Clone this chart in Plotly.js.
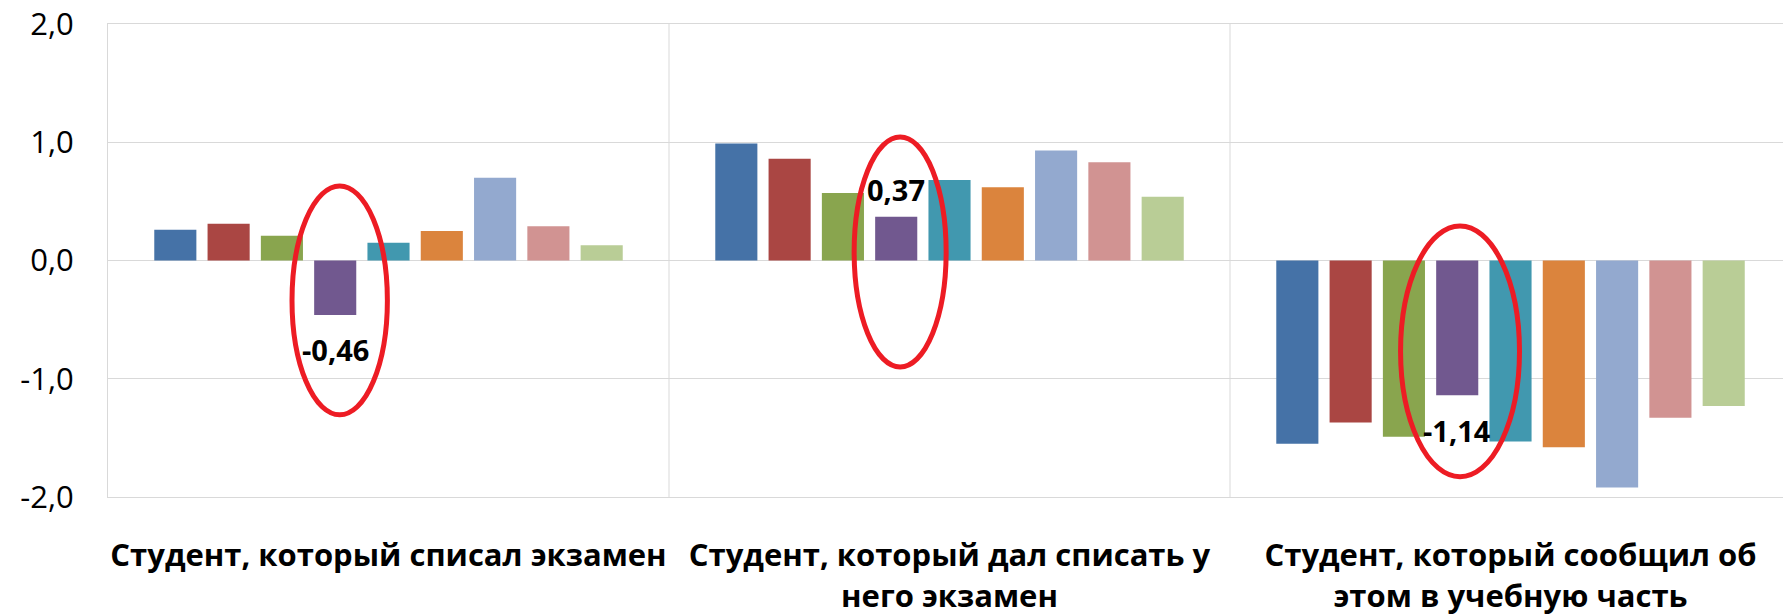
<!DOCTYPE html>
<html>
<head>
<meta charset="utf-8">
<script src="https://cdn.plot.ly/plotly-3.0.1.min.js"></script>
<style>
  html, body { margin: 0; padding: 0; background: #ffffff; overflow: hidden; }
  #chart { width: 1783px; height: 614px; }
</style>
</head>
<body>
<div id="chart"></div>
<script>
// ---- data ----
const categories = [
  'Студент, который списал экзамен',
  'Студент, который дал списать у<br>него экзамен',
  'Студент, который сообщил об<br>этом в учебную часть'
];
const seriesNames = ['Серия 1','Серия 2','Серия 3','Серия 4','Серия 5','Серия 6','Серия 7','Серия 8','Серия 9'];
const series1 = [0.26, 0.99, -1.55];
const series2 = [0.31, 0.86, -1.37];
const series3 = [0.21, 0.57, -1.49];
const series4 = [-0.46, 0.37, -1.14];
const series5 = [0.15, 0.68, -1.53];
const series6 = [0.25, 0.62, -1.58];
const series7 = [0.70, 0.93, -1.92];
const series8 = [0.29, 0.83, -1.33];
const series9 = [0.13, 0.54, -1.23];
const highlightedSeries = 3; // index of the labelled (purple) series
const yTickVals = [-2, -1, 0, 1, 2];
const yTickText = ['-2,0', '-1,0', '0,0', '1,0', '2,0'];

// ---- styles ----
const colors = ['#4572A7','#AA4643','#89A54E','#71588F','#4198AF','#DB843D','#93A9CF','#D19392','#B9CD96'];
const allSeries = [series1, series2, series3, series4, series5, series6, series7, series8, series9];
const catIdx = categories.map((c, i) => i);
const bargap = 0.145;
const nSeries = allSeries.length;

const traces = allSeries.map((vals, i) => ({
  type: 'bar',
  name: seriesNames[i],
  x: catIdx,
  y: vals,
  marker: { color: colors[i] },
  hoverinfo: 'y+name'
}));

// data labels of the highlighted series, placed at that series' bar position
const slot = (1 - bargap) / nSeries;
const hlOffset = (highlightedSeries - (nSeries - 1) / 2) * slot;
const labelFont = { family: 'Open Sans, sans-serif', size: 29, color: '#000000', weight: 'bold' };
const annotations = allSeries[highlightedSeries].map((v, i) => ({
  xref: 'x', yref: 'y',
  x: catIdx[i] + hlOffset,
  y: v,
  text: v.toFixed(2).replace('.', ','),
  showarrow: false,
  xanchor: 'center',
  yanchor: 'middle',
  yshift: v < 0 ? -35 : 27,
  font: labelFont
}));

// red ellipses around the labelled series (x offset relative to category, y extents)
const ellipseSpecs = [
  { dx: -0.087, hw: 0.085, y0: -1.305, y1: 0.63 },
  { dx: -0.088, hw: 0.082, y0: -0.90, y1: 1.044 },
  { dx: -0.090, hw: 0.106, y0: -1.828, y1: 0.292 }
];
const ellipses = ellipseSpecs.map((e, i) => ({
  type: 'circle',
  xref: 'x', yref: 'y',
  x0: catIdx[i] + e.dx - e.hw, x1: catIdx[i] + e.dx + e.hw,
  y0: e.y0, y1: e.y1,
  line: { color: '#ED1C24', width: 5 },
  fillcolor: 'rgba(0,0,0,0)',
  layer: 'above'
}));

const gridColor = '#D9D9D9';
const dividers = catIdx.slice(0, -1).map(i => ({
  type: 'line', xref: 'x', yref: 'paper',
  x0: i + 0.5, x1: i + 0.5, y0: 0, y1: 1,
  line: { color: gridColor, width: 1 },
  layer: 'below'
}));

const layout = {
  width: 1783,
  height: 614,
  margin: { l: 108, r: 0, t: 24, b: 117 },
  paper_bgcolor: '#ffffff',
  plot_bgcolor: '#ffffff',
  showlegend: false,
  separators: ', ',
  barmode: 'group',
  bargap: bargap,
  bargroupgap: 0.21,
  font: { family: 'Open Sans, sans-serif', color: '#000000' },
  xaxis: {
    type: 'linear',
    range: [-0.5, 2.4857],
    tickvals: catIdx,
    ticktext: categories,
    tickangle: 0,
    tickfont: { family: 'Open Sans, sans-serif', size: 31, color: '#000000', weight: 'bold' },
    showgrid: false,
    zeroline: false,
    showline: true,
    mirror: true,
    linecolor: gridColor,
    linewidth: 1,
    ticks: '',
    ticklabelstandoff: 31
  },
  yaxis: {
    range: [-2, 2],
    tickvals: yTickVals,
    ticktext: yTickText,
    tickfont: { family: 'Open Sans, sans-serif', size: 31, color: '#000000' },
    showgrid: true,
    gridcolor: gridColor,
    gridwidth: 1,
    zeroline: true,
    zerolinecolor: gridColor,
    zerolinewidth: 1.5,
    showline: true,
    linecolor: gridColor,
    linewidth: 1,
    ticks: '',
    ticklabelstandoff: 27
  },
  annotations: annotations,
  shapes: ellipses.concat(dividers)
};

Plotly.newPlot('chart', traces, layout, { displayModeBar: false, staticPlot: true });
</script>
</body>
</html>
